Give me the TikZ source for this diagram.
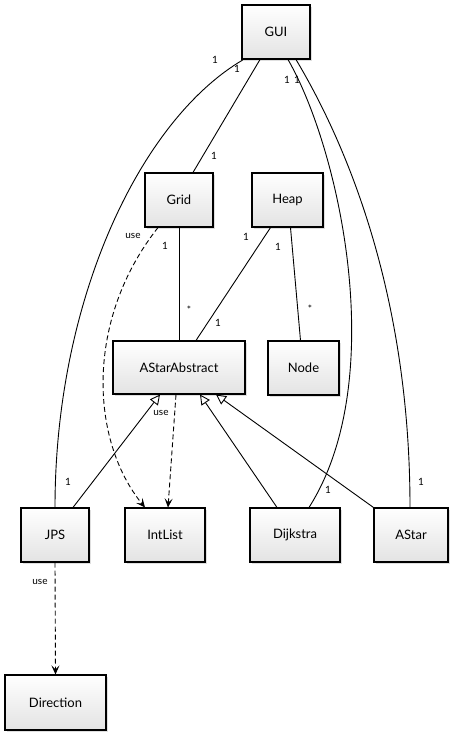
\documentclass[tikz,border=0pt]{standalone}
\usepackage{fontspec}
\setmainfont{Lato}
\usetikzlibrary{shadows,arrows.meta,calc}
\begin{document}
\begin{tikzpicture}[x=1pt,y=-1pt,
 cls/.style={draw, line width=1.1pt, top color=white, bottom color=gray!22,
   drop shadow={opacity=0.25,shadow xshift=2pt,shadow yshift=-2pt},
   minimum height=54pt, inner sep=0pt, font=\fontsize{13}{15}\selectfont},
 assoc/.style={line width=0.9pt},
 dep/.style={line width=0.9pt, dash pattern=on 5pt off 3pt, -{Stealth[length=9pt,width=8pt,inset=4pt]}},
 inh/.style={line width=0.9pt, -{Triangle[open,length=10pt,width=10pt]}},
 lbl/.style={font=\fontsize{10}{11}\selectfont, inner sep=1pt}]
\useasboundingbox (0,0) rectangle (454,735);

\node[cls, minimum width=68pt] (GUI) at (276,32) {GUI};
\node[cls, minimum width=68pt] (Grid) at (179,200) {Grid};
\node[cls, minimum width=71pt] (Heap) at (287.5,200) {Heap};
\node[cls, minimum width=132pt, minimum height=53pt] (ASA) at (179,367.5) {AStarAbstract};
\node[cls, minimum width=71pt] (Node) at (303.5,368) {Node};
\node[cls, minimum width=68pt] (JPS) at (55,535) {JPS};
\node[cls, minimum width=80pt] (IntList) at (165,535) {IntList};
\node[cls, minimum width=90pt] (Dijkstra) at (295,535) {Dijkstra};
\node[cls, minimum width=74pt] (AStar) at (411,535) {AStar};
\node[cls, minimum width=101pt, minimum height=55pt] (Direction) at (55.5,702.5) {Direction};

% associations from GUI
\draw[assoc] ($(GUI.south west)+(2,0)$) .. controls (140,120) and (55,300) .. (JPS.north);
\draw[assoc] ($(GUI.south)+(-16,0)$) -- ($(Grid.north)+(14,0)$);
\draw[assoc] ($(GUI.south)+(12,0)$) .. controls (340,150) and (390,380) .. ($(Dijkstra.north)+(14,0)$);
\draw[assoc] ($(GUI.south)+(20,0)$) .. controls (350,150) and (410,300) .. ($(AStar.north)+(-1,0)$);

\node[lbl] (l1) at (215,60) {1};
\node[lbl] (l2) at (237,69) {1};
\node[lbl] (l3) at (287,80) {1};
\node[lbl] (l4) at (297,80) {1};
\node[lbl] (l5) at (214,156) {1};
\node[lbl] (l6) at (68,482) {1};
\node[lbl] (l7) at (328,490) {1};
\node[lbl] (l8) at (421,482) {1};

% Grid / Heap associations
\draw[assoc] (Grid.south) -- (ASA.north);
\node[lbl] (l9) at (165,246) {1};
\node[lbl] (l10) at (189,310) {*};
\draw[assoc] ($(Heap.south)+(-17,0)$) -- ($(ASA.north)+(17,0)$);
\node[lbl] (l11) at (246,237) {1};
\node[lbl] (l12) at (218,323) {1};
\draw[assoc] ($(Heap.south)+(3,0)$) -- ($(Node.north)+(-3,0)$);
\node[lbl] (l13) at (278,247) {1};
\node[lbl] (l14) at (310,309) {*};

% dependencies
\draw[dep] ($(Grid.south)+(-21,0)$) .. controls (85,320) and (90,440) .. ($(IntList.north)+(-20,0)$);
\node[lbl] (u1) at (133,236) {use};
\draw[dep] ($(ASA.south)+(-3,0)$) -- ($(IntList.north)+(3,0)$);
\node[lbl] (u2) at (161,413) {use};
\draw[dep] (JPS.south) -- (Direction.north);
\node[lbl] (u3) at (40,582) {use};

% inheritance
\draw[inh] ($(JPS.north)+(18,0)$) -- ($(ASA.south)+(-19,0)$);
\draw[inh] ($(Dijkstra.north)+(-18,0)$) -- ($(ASA.south)+(21,0)$);
\draw[inh] (AStar.north west) -- ($(ASA.south)+(37,0)$);
\end{tikzpicture}
\end{document}
